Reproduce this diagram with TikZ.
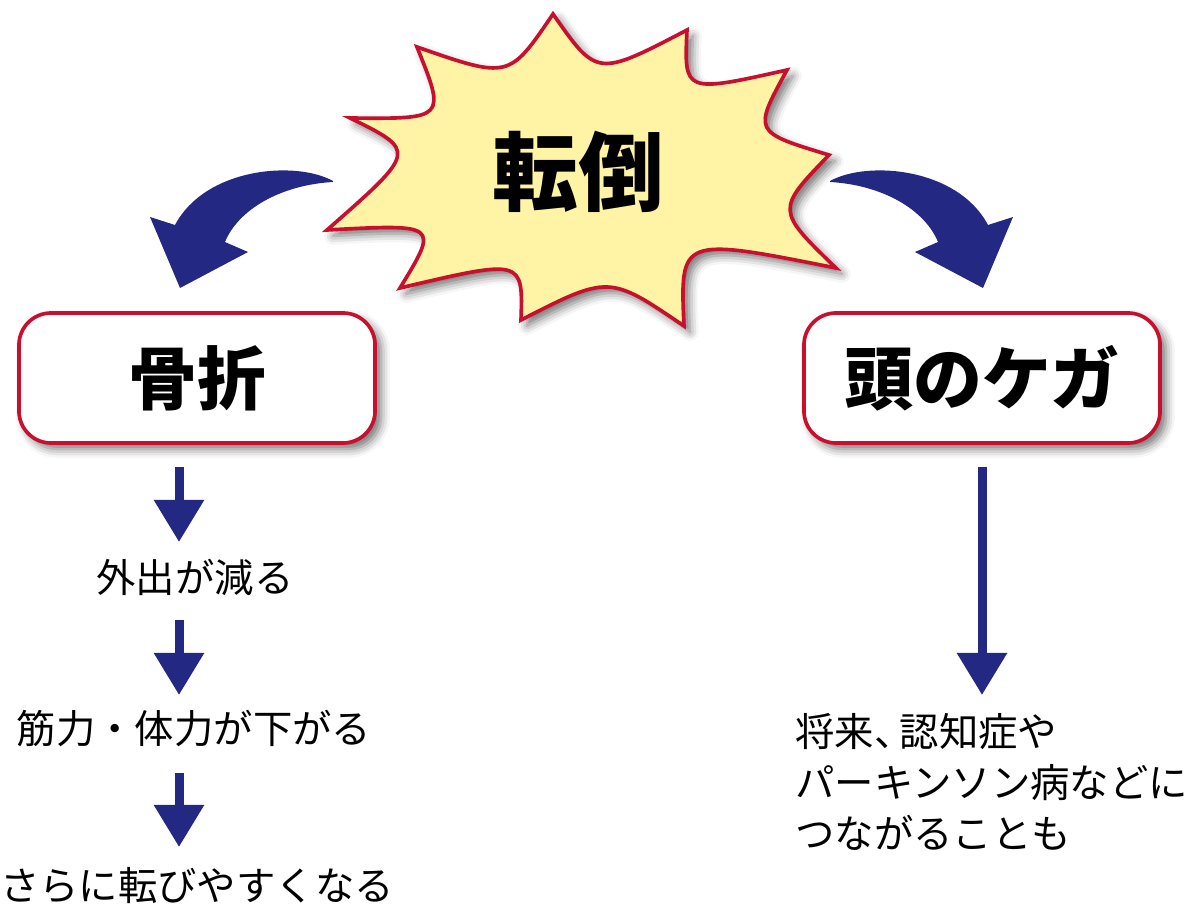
\documentclass[tikz,border=0pt]{standalone}
\usepackage{fontspec}
\setmainfont{Noto Sans CJK JP}
\usepackage{tikz}
\usetikzlibrary{calc}
\usetikzlibrary{arrows.meta}
\usetikzlibrary{shadows.blur}
\definecolor{fallred}{RGB}{200,16,46}
\definecolor{fallyellow}{RGB}{255,244,166}
\definecolor{fallnavy}{RGB}{35,40,130}

\begin{document}
\begin{tikzpicture}[x=0.025cm, y=-0.025cm,
    softshadow/.style={blur shadow={shadow xshift=0.15cm, shadow yshift=-0.15cm, shadow blur radius=0.22cm, shadow opacity=55}},
    causebox/.style={draw=fallred, line width=2.6pt, fill=white, rounded corners=0.8cm, minimum width=8.9cm, minimum height=3.25cm, softshadow, font=\fontsize{49}{49}\selectfont\bfseries},
    steptext/.style={font=\fontsize{28}{36.3}\selectfont, inner sep=0pt},
    downarrow/.style={draw=fallnavy, line width=0.225cm, -{Triangle[width=1.2cm,length=1.05cm]}},
    bentarrow/.style={fill=fallnavy}]
    \useasboundingbox (0,0) rectangle (1196,913);
    % spikes of the star
    \coordinate (T1) at (553,14);
    \coordinate (T2) at (687,30);
    \coordinate (T3) at (787,70);
    \coordinate (T4) at (829,155);
    \coordinate (T5) at (836,268);
    \coordinate (T6) at (684,326);
    \coordinate (T7) at (521,320);
    \coordinate (T8) at (400,288);
    \coordinate (T9) at (327,230);
    \coordinate (T10) at (350,118);
    \coordinate (T11) at (417,47);
    \draw[draw=fallred, line width=2.6pt, fill=fallyellow, softshadow]
        (T1) .. controls (597,77) .. (T2) .. controls (684,93) .. (T3)
        .. controls (753,132) .. (T4) .. controls (776,210) .. (T5)
        .. controls (680,237) .. (T6) .. controls (609,275) .. (T7)
        .. controls (523,259) .. (T8) .. controls (439,224) .. (T9)
        .. controls (417,151) .. (T10) .. controls (446,119) .. (T11)
        .. controls (509,79) .. (T1) -- cycle;
    \node[font=\fontsize{61}{61}\selectfont\bfseries] (tento) at (578,172) {転倒};
    % bent arrows
    \fill[bentarrow] (333,181) .. controls (295,160) and (205,168) .. (175,225) -- (150,217) -- (180,288) -- (248,252) -- (225,242) .. controls (238,210) and (280,185) .. (333,182) -- cycle;
    \fill[bentarrow] (830,181) .. controls (868,160) and (958,168) .. (988,225) -- (1013,217) -- (983,288) -- (915,252) -- (938,242) .. controls (925,210) and (883,185) .. (830,182) -- cycle;
    % boxes
    \node[causebox] (kossetsu) at (197,378) {骨折};
    \node[causebox] (kega) at (982,378) {頭のケガ};
    % left column
    \coordinate (leftcol) at (179,0);
    \node[steptext] (gaishutsu) at (195,577) {外出が減る};
    \node[steptext] (kinryoku) at (194,729) {筋力・体力が下がる};
    \node[steptext] (korobi) at (197,886) {さらに転びやすくなる};
    \draw[downarrow] ($(leftcol |- kossetsu.south)+(0,22)$) -- ($(leftcol |- gaishutsu)+(0,-35)$);
    \draw[downarrow] ($(leftcol |- gaishutsu)+(0,43)$) -- ($(leftcol |- kinryoku)+(0,-34)$);
    \draw[downarrow] ($(leftcol |- kinryoku)+(0,44)$) -- ($(leftcol |- korobi)+(0,-39)$);
    % right column
    \coordinate (rightcol) at (982,0);
    \node[steptext, align=left, anchor=north west] (shorai) at (795,713) {将来、\kern-0.35em 認知症や\\パーキンソン病などに\\つながることも};
    \draw[downarrow] ($(rightcol |- kega.south)+(0,22)$) -- ($(rightcol |- shorai.north)+(0,-18)$);
\end{tikzpicture}
\end{document}
